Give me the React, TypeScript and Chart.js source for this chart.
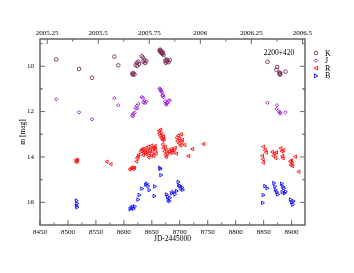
import React, { useEffect, useRef } from 'react';
import { Chart, registerables } from 'chart.js';
Chart.register(...registerables);

// K band
const kX = [8479, 8520, 8543, 8583, 8590, 8615, 8617, 8619, 8616, 8621, 8623, 8624, 8626, 8627, 8632, 8634, 8635, 8637, 8638, 8640, 8664, 8665, 8666, 8667, 8668, 8669, 8670, 8671, 8665, 8674, 8675, 8676, 8677, 8678, 8680, 8682, 8857, 8873, 8874, 8878, 8879, 8879, 8880, 8889];
const kY = [9.70, 10.12, 10.51, 9.58, 9.96, 10.33, 10.30, 10.36, 10.37, 9.95, 9.85, 9.99, 9.80, 9.90, 9.56, 9.62, 9.80, 9.72, 9.86, 9.78, 9.30, 9.34, 9.38, 9.33, 9.42, 9.46, 9.40, 9.50, 9.27, 9.75, 9.85, 9.70, 9.80, 9.74, 9.82, 9.72, 9.81, 10.16, 10.03, 10.28, 10.33, 10.37, 10.31, 10.24];
// J band
const jX = [8479, 8520, 8543, 8583, 8590, 8615, 8617, 8619, 8616, 8621, 8623, 8624, 8626, 8632, 8634, 8635, 8637, 8638, 8640, 8664, 8665, 8666, 8667, 8668, 8669, 8670, 8671, 8674, 8675, 8676, 8677, 8678, 8680, 8682, 8857, 8873, 8874, 8878, 8879, 8880, 8889];
const jY = [11.46, 12.03, 12.34, 11.41, 11.72, 12.17, 12.10, 12.04, 12.20, 11.85, 11.75, 11.86, 11.66, 11.36, 11.40, 11.60, 11.53, 11.62, 11.56, 10.98, 11.02, 11.06, 11.10, 11.15, 11.30, 11.27, 11.36, 11.55, 11.65, 11.70, 11.60, 11.62, 11.52, 11.50, 11.61, 11.88, 11.72, 12.00, 12.05, 12.08, 12.03];
// R band
const rX = [8515, 8516, 8515, 8517, 8570, 8577, 8611, 8613, 8615, 8617, 8619, 8623, 8624, 8626, 8627, 8631, 8634, 8636, 8638, 8640, 8642, 8644, 8646, 8648, 8650, 8652, 8654, 8655, 8657, 8658, 8635, 8645, 8650, 8632, 8639, 8647, 8653, 8656, 8641, 8663, 8664, 8665, 8666, 8667, 8668, 8669, 8670, 8671, 8672, 8670, 8671, 8673, 8674, 8675, 8676, 8677, 8678, 8682, 8685, 8688, 8690, 8692, 8694, 8684, 8687, 8695, 8696, 8698, 8699, 8700, 8702, 8703, 8704, 8705, 8709, 8716, 8723, 8743, 8850, 8848, 8849, 8850, 8853, 8855, 8866, 8868, 8870, 8872, 8873, 8881, 8883, 8884, 8885, 8886, 8898, 8899, 8900, 8901, 8902, 8907, 8913];
const rY = [14.12, 14.18, 14.22, 14.15, 14.21, 14.32, 14.55, 14.50, 14.46, 14.52, 14.48, 14.20, 14.05, 13.98, 13.90, 13.75, 13.65, 13.80, 13.70, 13.60, 13.75, 13.55, 13.85, 13.65, 13.50, 13.78, 13.95, 13.60, 13.70, 13.85, 13.92, 14.02, 13.95, 13.68, 13.82, 13.72, 13.62, 13.52, 13.88, 12.85, 12.95, 13.05, 12.80, 13.15, 13.00, 13.20, 13.25, 13.10, 13.22, 13.45, 13.60, 13.75, 13.55, 13.90, 14.00, 13.70, 13.85, 13.75, 13.65, 13.80, 13.70, 13.60, 13.85, 13.82, 13.72, 13.15, 13.30, 13.05, 13.40, 13.20, 13.50, 13.00, 13.35, 13.25, 13.47, 13.96, 13.65, 13.43, 13.55, 13.95, 14.10, 14.25, 13.70, 13.80, 13.78, 13.95, 13.85, 14.05, 13.80, 13.62, 13.75, 13.95, 14.05, 13.70, 14.20, 14.35, 14.15, 14.28, 14.40, 13.99, 14.65];
// B band
const bX = [8515, 8516, 8515, 8516, 8611, 8613, 8615, 8617, 8619, 8625, 8627, 8632, 8639, 8641, 8643, 8645, 8654, 8655, 8664, 8665, 8666, 8676, 8678, 8679, 8681, 8682, 8685, 8688, 8691, 8694, 8697, 8698, 8700, 8702, 8704, 8705, 8848, 8849, 8852, 8856, 8868, 8870, 8871, 8873, 8875, 8882, 8884, 8886, 8883, 8887, 8889, 8898, 8900, 8902, 8903];
const bY = [15.92, 16.05, 16.15, 16.22, 16.30, 16.25, 16.20, 16.28, 16.18, 15.88, 15.68, 15.40, 15.22, 15.18, 15.28, 15.46, 15.72, 15.30, 14.48, 14.53, 14.80, 15.65, 15.75, 15.90, 15.95, 15.80, 15.60, 15.55, 15.65, 15.50, 15.10, 15.25, 15.28, 15.40, 15.35, 15.45, 16.02, 15.68, 15.28, 15.38, 15.15, 15.30, 15.45, 15.55, 15.65, 15.18, 15.30, 15.38, 15.55, 15.60, 15.53, 15.88, 16.00, 16.10, 15.95];

const seriesNames = ['K', 'J', 'R', 'B'];
const xTicks = [8450, 8500, 8550, 8600, 8650, 8700, 8750, 8800, 8850, 8900];
const yTicks = [10, 12, 14, 16];
const yearTicks = [2005.25, 2005.5, 2005.75, 2006, 2006.25, 2006.5];
const jdMin = 8450;
const jdMax = 8924;
const yMin = 8.8;
const yMax = 17;
const objectName = '2200+420';

const toYear = (jd: number) => 2005 + (jd - 8371.5) / 365.25;

const colors = ['#7a2a5c', '#9a10d8', '#ff1010', '#1010ff'];
const FONT = 'Liberation Serif';

function drawMarker(ctx: CanvasRenderingContext2D, kind: number, x: number, y: number, r: number) {
  ctx.beginPath();
  if (kind === 0) {
    ctx.arc(x, y, r, 0, Math.PI * 2);
  } else if (kind === 1) {
    ctx.moveTo(x, y - r); ctx.lineTo(x + r, y); ctx.lineTo(x, y + r); ctx.lineTo(x - r, y); ctx.closePath();
  } else if (kind === 2) {
    ctx.moveTo(x - r, y); ctx.lineTo(x + r * 0.8, y - r); ctx.lineTo(x + r * 0.8, y + r); ctx.closePath();
  } else {
    ctx.moveTo(x + r, y); ctx.lineTo(x - r * 0.8, y - r); ctx.lineTo(x - r * 0.8, y + r); ctx.closePath();
  }
  ctx.stroke();
}

const framePlugin = {
  id: 'frameTicks',
  afterDraw(chart: any) {
    const { ctx, chartArea: a, scales } = chart;
    ctx.save();
    ctx.strokeStyle = '#666';
    ctx.lineWidth = 1;
    const line = (x1: number, y1: number, x2: number, y2: number) => {
      ctx.beginPath(); ctx.moveTo(x1, y1); ctx.lineTo(x2, y2); ctx.stroke();
    };
    const maj = 5, min = 2.5;
    xTicks.forEach((v) => {
      const p = scales.x.getPixelForValue(v);
      line(p, a.bottom, p, a.bottom - maj);
      const m = v + 25;
      if (m < jdMax) { const q = scales.x.getPixelForValue(m); line(q, a.bottom, q, a.bottom - min); }
    });
    yearTicks.forEach((v) => {
      const p = scales.x2.getPixelForValue(v);
      line(p, a.top, p, a.top + maj);
      const q = scales.x2.getPixelForValue(v + 0.125);
      if (q < a.right) line(q, a.top, q, a.top + min);
      const q2 = scales.x2.getPixelForValue(v - 0.125);
      if (q2 > a.left && v === yearTicks[0]) line(q2, a.top, q2, a.top + min);
    });
    yTicks.forEach((v) => {
      const p = scales.y.getPixelForValue(v);
      line(a.left, p, a.left + maj, p);
      line(a.right, p, a.right - maj, p);
      [v - 1, v + 1].forEach((m) => {
        if (m > yMin && m < yMax) {
          const q = scales.y.getPixelForValue(m);
          line(a.left, q, a.left + min, q);
          line(a.right, q, a.right - min, q);
        }
      });
    });
    ctx.lineWidth = 1.5;
    ctx.strokeRect(a.left, a.top, a.right - a.left, a.bottom - a.top);

    ctx.fillStyle = '#000';
    ctx.font = `7.5px "${FONT}"`;
    ctx.textAlign = 'center';
    ctx.textBaseline = 'middle';
    ctx.fillText(objectName, 279, 53);
    ctx.fillText('JD-2445000', (a.left + a.right) / 2, 239);
    ctx.save();
    ctx.translate(23, (a.top + a.bottom) / 2);
    ctx.rotate(-Math.PI / 2);
    ctx.fillText('m [mag]', 0, 0);
    ctx.restore();

    ctx.textAlign = 'left';
    ctx.font = `8px "${FONT}"`;
    seriesNames.forEach((n, i) => {
      const yy = 53 + i * 7.6;
      ctx.strokeStyle = colors[i];
      ctx.lineWidth = 0.9;
      drawMarker(ctx, i, 316, yy, i < 2 ? 1.8 : 2);
      ctx.fillStyle = '#000';
      ctx.fillText(n, 325, yy + 0.5);
    });
    ctx.restore();
  },
};

export default function App() {
  const ref = useRef<HTMLCanvasElement>(null);
  useEffect(() => {
    document.body.style.margin = '0';
    const mk = (xs: number[], ys: number[]) => xs.map((x, i) => ({ x, y: ys[i] }));
    const styles = ['circle', 'rectRot', 'triangle', 'triangle'];
    const rots = [0, 0, -90, 90];
    const radii = [1.8, 1.7, 2, 2];
    const data = [mk(kX, kY), mk(jX, jY), mk(rX, rY), mk(bX, bY)];
    const tickFont = { family: FONT, size: 7 };
    const chart = new Chart(ref.current!, {
      type: 'scatter',
      data: {
        datasets: data.map((d, i) => ({
          label: seriesNames[i],
          data: d,
          pointStyle: styles[i] as any,
          pointRotation: rots[i],
          pointRadius: radii[i],
          pointBorderWidth: 0.9,
          borderColor: colors[i],
          backgroundColor: 'rgba(0,0,0,0)',
          pointBackgroundColor: 'rgba(0,0,0,0)',
          showLine: false,
        })),
      },
      options: {
        animation: false,
        responsive: false,
        devicePixelRatio: 1,
        layout: { padding: 0 },
        plugins: { legend: { display: false }, tooltip: { enabled: false } },
        scales: {
          x: {
            type: 'linear', position: 'bottom', min: jdMin, max: jdMax,
            grid: { display: false, drawTicks: false },
            border: { display: false },
            afterBuildTicks: (s: any) => { s.ticks = xTicks.map((v) => ({ value: v })); },
            afterFit: (s: any) => { s.height = 48; },
            ticks: { font: tickFont, color: '#000', padding: 3, maxRotation: 0, autoSkip: false, callback: (v: any) => String(v) },
          },
          x2: {
            type: 'linear', position: 'top', min: toYear(jdMin), max: toYear(jdMax),
            grid: { display: false, drawTicks: false },
            border: { display: false },
            afterBuildTicks: (s: any) => { s.ticks = yearTicks.map((v) => ({ value: v })); },
            afterFit: (s: any) => { s.height = 39; },
            ticks: { font: tickFont, color: '#000', padding: 2, maxRotation: 0, autoSkip: false, callback: (v: any) => String(v) },
          },
          y: {
            type: 'linear', position: 'left', min: yMin, max: yMax, reverse: true,
            grid: { display: false, drawTicks: false },
            border: { display: false },
            afterBuildTicks: (s: any) => { s.ticks = yTicks.map((v) => ({ value: v })); },
            afterFit: (s: any) => { s.width = 40; },
            ticks: { font: tickFont, color: '#000', padding: 6, autoSkip: false, callback: (v: any) => String(v) },
          },
          y2: {
            type: 'linear', position: 'right', min: yMin, max: yMax, reverse: true,
            grid: { display: false, drawTicks: false },
            border: { display: false },
            ticks: { display: false },
            afterFit: (s: any) => { s.width = 49; },
          },
        },
      } as any,
      plugins: [framePlugin],
    });
    return () => chart.destroy();
  }, []);
  return <canvas ref={ref} width={354} height={273} style={{ display: 'block', width: 354, height: 273 }} />;
}
